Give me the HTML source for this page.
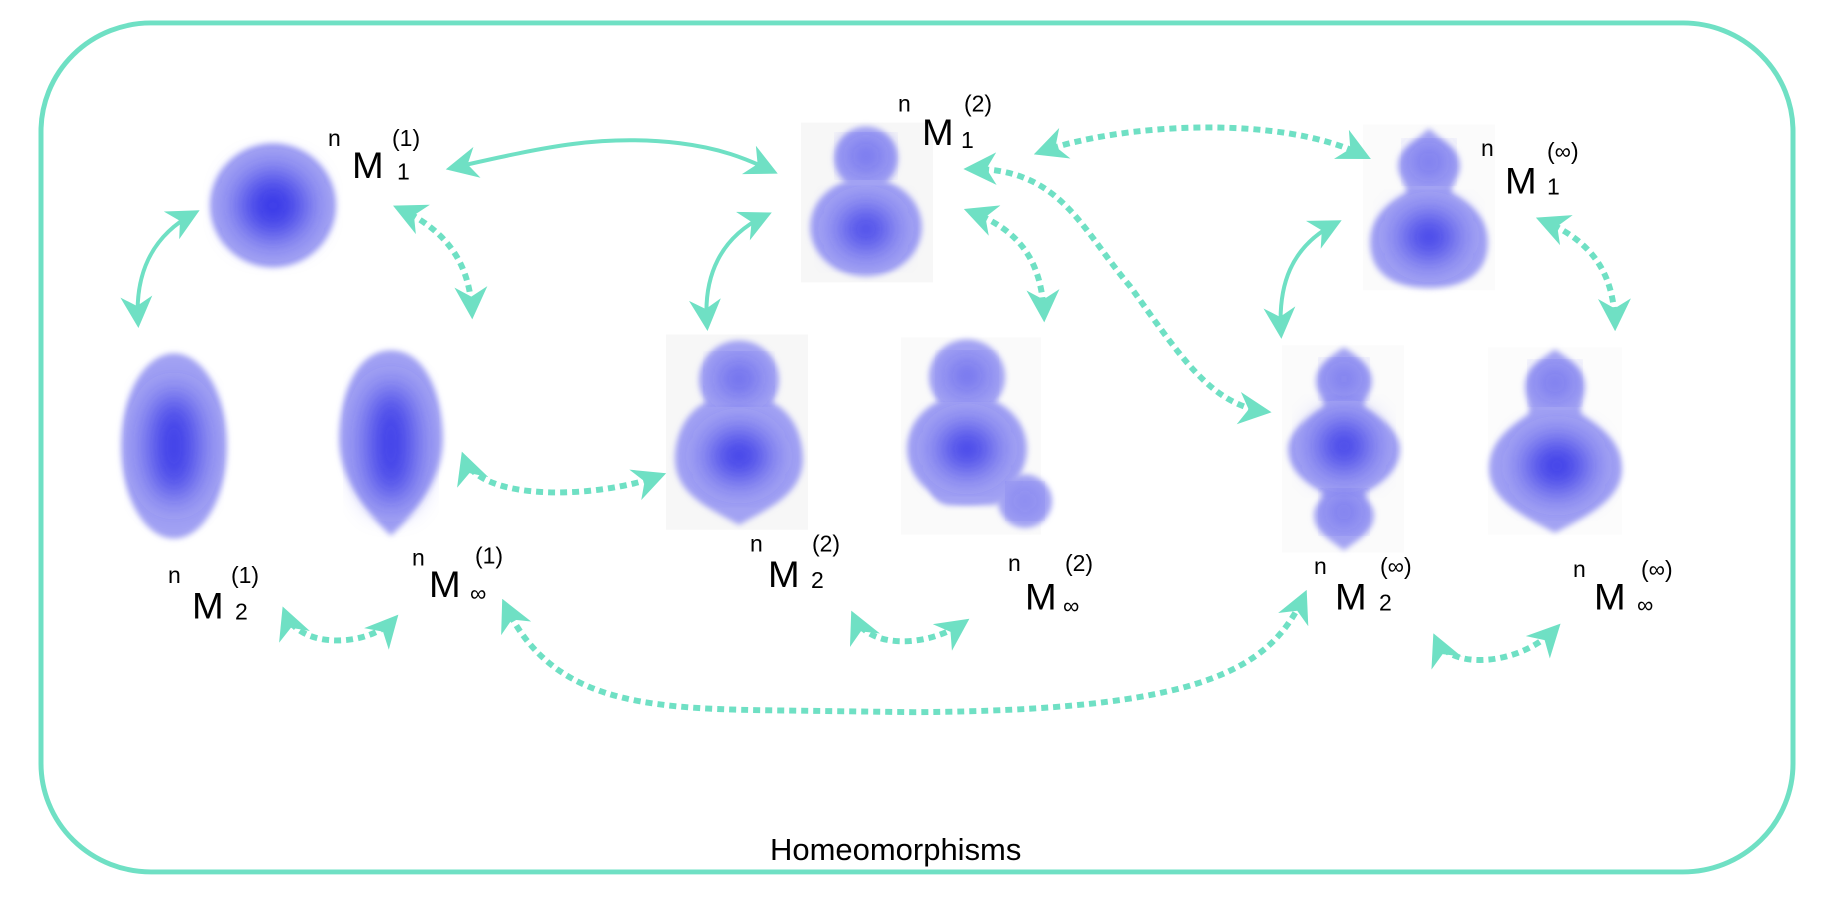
<!DOCTYPE html>
<html><head><meta charset="utf-8"><style>
html,body{margin:0;padding:0;background:#fff;}
svg{display:block;}
text{font-family:"Liberation Sans",Arial,sans-serif;fill:#000;}
</style></head><body>
<svg width="1834" height="904" viewBox="0 0 1834 904" xmlns="http://www.w3.org/2000/svg">
<defs>
<filter id="b" x="-50%" y="-50%" width="200%" height="200%"><feGaussianBlur stdDeviation="16"/></filter>
<filter id="e" x="-20%" y="-20%" width="140%" height="140%"><feGaussianBlur stdDeviation="3"/></filter>
<marker id="a" viewBox="0 0 20 20" refX="16" refY="10" markerWidth="5.5" markerHeight="5.5" orient="auto-start-reverse" markerUnits="strokeWidth">
<path d="M0,0 L20,10 L0,20 L6,10 Z" fill="#6fe0c4"/></marker>
<marker id="a2" viewBox="0 0 20 20" refX="16" refY="10" markerWidth="8" markerHeight="8" orient="auto-start-reverse" markerUnits="strokeWidth">
<path d="M0,0 L20,10 L0,20 L6,10 Z" fill="#6fe0c4"/></marker>
</defs>

<g transform="translate(0,21) scale(1,0.986) translate(0,-21)">
<rect x="41" y="23" width="1752" height="861" rx="110" ry="110" fill="none" stroke="#6fe0c4" stroke-width="5"/>

<rect x="801" y="124" width="132" height="162" fill="#f7f7f7"/>
<rect x="666" y="339" width="142" height="198" fill="#f7f7f7"/>
<rect x="901" y="342" width="140" height="200" fill="#fafafa"/>
<rect x="1363" y="126" width="132" height="168" fill="#fbfbfb"/>
<rect x="1282" y="350" width="122" height="210" fill="#fbfbfb"/>
<rect x="1488" y="352" width="134" height="190" fill="#fcfcfc"/>

<g>
<circle cx="273" cy="208" r="63" fill="#a2a2f3" filter="url(#e)"/>
<circle cx="273" cy="208" r="35" fill="#3838e8" filter="url(#b)"/>
</g>
<g>
<ellipse cx="174" cy="452" rx="53" ry="94" fill="#a2a2f3" filter="url(#e)"/>
<ellipse cx="174" cy="452" rx="25" ry="55" fill="#3838e8" filter="url(#b)"/>
</g>
<g>
<path d="M391,355 C430,355 443,410 443,445 C443,490 410,525 391,543 C372,525 339,490 339,445 C339,410 352,355 391,355 Z" fill="#a2a2f3" filter="url(#e)"/>
<ellipse cx="391" cy="450" rx="24" ry="60" fill="#3838e8" filter="url(#b)"/>
</g>
<g>
<circle cx="866" cy="160" r="32" fill="#a2a2f3" filter="url(#e)"/>
<rect x="850" y="170" width="32" height="30" fill="#a2a2f3" filter="url(#e)"/>
<ellipse cx="866" cy="230" rx="56" ry="50" fill="#a2a2f3" filter="url(#e)"/>
<ellipse cx="866" cy="158" rx="16" ry="12" fill="#3838e8" filter="url(#b)"/>
<ellipse cx="866" cy="232" rx="26" ry="22" fill="#3838e8" filter="url(#b)"/>
</g>
<g>
<circle cx="739" cy="385" r="40" fill="#a2a2f3" filter="url(#e)"/>
<rect x="718" y="400" width="42" height="30" fill="#a2a2f3" filter="url(#e)"/>
<path d="M739,400 C790,400 803,440 803,465 C803,500 770,515 739,532 C708,515 675,500 675,465 C675,440 688,400 739,400 Z" fill="#a2a2f3" filter="url(#e)"/>
<ellipse cx="739" cy="384" rx="18" ry="14" fill="#3838e8" filter="url(#b)"/>
<ellipse cx="739" cy="462" rx="30" ry="26" fill="#3838e8" filter="url(#b)"/>
</g>
<g>
<circle cx="967" cy="382" r="38" fill="#a2a2f3" filter="url(#e)"/>
<rect x="947" y="395" width="40" height="30" fill="#a2a2f3" filter="url(#e)"/>
<ellipse cx="967" cy="455" rx="60" ry="55" fill="#a2a2f3" filter="url(#e)"/>
<rect x="930" y="470" width="80" height="42" rx="20" fill="#a2a2f3" filter="url(#e)"/>
<circle cx="1025" cy="508" r="27" fill="#a2a2f3" filter="url(#e)"/>
<ellipse cx="967" cy="381" rx="16" ry="13" fill="#3838e8" filter="url(#b)"/>
<ellipse cx="967" cy="455" rx="28" ry="24" fill="#3838e8" filter="url(#b)"/>
<ellipse cx="1025" cy="508" rx="10" ry="10" fill="#3838e8" filter="url(#b)"/>
</g>
<g>
<path d="M1429,130 C1445,145 1460,150 1460,168 C1460,180 1450,188 1452,195 C1470,205 1488,220 1488,245 C1488,280 1460,292 1429,292 C1398,292 1370,280 1370,245 C1370,220 1388,205 1406,195 C1408,188 1398,180 1398,168 C1398,150 1413,145 1429,130 Z" fill="#a2a2f3" filter="url(#e)"/>
<ellipse cx="1429" cy="164" rx="14" ry="12" fill="#3838e8" filter="url(#b)"/>
<ellipse cx="1429" cy="240" rx="28" ry="24" fill="#3838e8" filter="url(#b)"/>
</g>
<g>
<path d="M1344,352 C1360,362 1372,372 1372,386 C1372,400 1362,405 1365,412 C1385,425 1400,440 1400,455 C1400,475 1385,488 1367,498 C1362,505 1374,510 1374,522 C1374,540 1356,548 1344,558 C1332,548 1314,540 1314,522 C1314,510 1326,505 1321,498 C1303,488 1288,475 1288,455 C1288,440 1303,425 1323,412 C1326,405 1316,400 1316,386 C1316,372 1328,362 1344,352 Z" fill="#a2a2f3" filter="url(#e)"/>
<ellipse cx="1344" cy="384" rx="13" ry="11" fill="#3838e8" filter="url(#b)"/>
<ellipse cx="1344" cy="452" rx="26" ry="26" fill="#3838e8" filter="url(#b)"/>
<ellipse cx="1344" cy="519" rx="13" ry="12" fill="#3838e8" filter="url(#b)"/>
</g>
<g>
<path d="M1555,354 C1570,365 1585,372 1585,392 C1585,405 1578,412 1582,420 C1605,435 1622,450 1622,475 C1622,505 1590,522 1555,540 C1520,522 1489,505 1489,475 C1489,450 1506,435 1528,420 C1532,412 1525,405 1525,392 C1525,372 1540,365 1555,354 Z" fill="#a2a2f3" filter="url(#e)"/>
<ellipse cx="1555" cy="388" rx="14" ry="12" fill="#3838e8" filter="url(#b)"/>
<ellipse cx="1557" cy="472" rx="32" ry="28" fill="#3838e8" filter="url(#b)"/>
</g>

<g fill="none" stroke="#6fe0c4" stroke-width="4">
<path d="M452,170 C540,150 600,135 680,145 C720,150 745,160 772,173" marker-start="url(#a2)" marker-end="url(#a2)"/>
<path d="M194,216 C150,240 135,280 138,326" marker-start="url(#a2)" marker-end="url(#a2)"/>
<path d="M766,218 C720,240 703,280 707,329" marker-start="url(#a2)" marker-end="url(#a2)"/>
<path d="M1336,226 C1290,250 1278,290 1281,337" marker-start="url(#a2)" marker-end="url(#a2)"/>
</g>
<g fill="none" stroke="#6fe0c4" stroke-width="6" stroke-dasharray="7 5">
<path d="M399,211 C450,235 470,270 472,317" marker-start="url(#a)" marker-end="url(#a)"/>
<path d="M464,464 C480,510 600,505 660,482" marker-start="url(#a)" marker-end="url(#a)"/>
<path d="M285,621 C300,660 370,655 394,628" marker-start="url(#a)" marker-end="url(#a)"/>
<path d="M505,613 C550,710 640,718 763,720 L914,722 C1200,720 1270,680 1304,604" marker-start="url(#a)" marker-end="url(#a)"/>
<path d="M854,625 C870,660 930,655 964,631" marker-start="url(#a)" marker-end="url(#a)"/>
<path d="M1040,154 C1120,125 1280,115 1365,158" marker-start="url(#a)" marker-end="url(#a)"/>
<path d="M970,171 C1060,170 1080,230 1130,290 C1180,360 1210,410 1265,417" marker-start="url(#a)" marker-end="url(#a)"/>
<path d="M970,214 C1025,235 1042,270 1044,320" marker-start="url(#a)" marker-end="url(#a)"/>
<path d="M1542,223 C1595,245 1614,280 1615,329" marker-start="url(#a)" marker-end="url(#a)"/>
<path d="M1436,648 C1450,680 1520,675 1556,637" marker-start="url(#a)" marker-end="url(#a)"/>
</g>

<g font-size="23">
<text x="328" y="148">n</text><text x="352" y="180" font-size="38">M</text><text x="392" y="148">(1)</text><text x="397" y="182">1</text>
<text x="898" y="113">n</text><text x="922" y="147" font-size="38">M</text><text x="964" y="113">(2)</text><text x="961" y="150">1</text>
<text x="1481" y="158">n</text><text x="1505" y="196" font-size="38">M</text><text x="1547" y="161">(∞)</text><text x="1547" y="197">1</text>
<text x="168" y="591">n</text><text x="192" y="627" font-size="38">M</text><text x="231" y="591">(1)</text><text x="235" y="628">2</text>
<text x="412" y="573">n</text><text x="429" y="605" font-size="38">M</text><text x="475" y="571">(1)</text><text x="470" y="609" fill="#888">∞</text>
<text x="750" y="559">n</text><text x="768" y="595" font-size="38">M</text><text x="812" y="559">(2)</text><text x="811" y="596">2</text>
<text x="1008" y="579">n</text><text x="1025" y="618" font-size="38">M</text><text x="1065" y="579">(2)</text><text x="1063" y="622" fill="#888">∞</text>
<text x="1314" y="582">n</text><text x="1335" y="618" font-size="38">M</text><text x="1380" y="582">(∞)</text><text x="1379" y="619">2</text>
<text x="1573" y="585">n</text><text x="1594" y="618" font-size="38">M</text><text x="1641" y="585">(∞)</text><text x="1637" y="621" fill="#888">∞</text>
</g>
<text x="770" y="872" font-size="31">Homeomorphisms</text>
</g>
</svg>
</body></html>
